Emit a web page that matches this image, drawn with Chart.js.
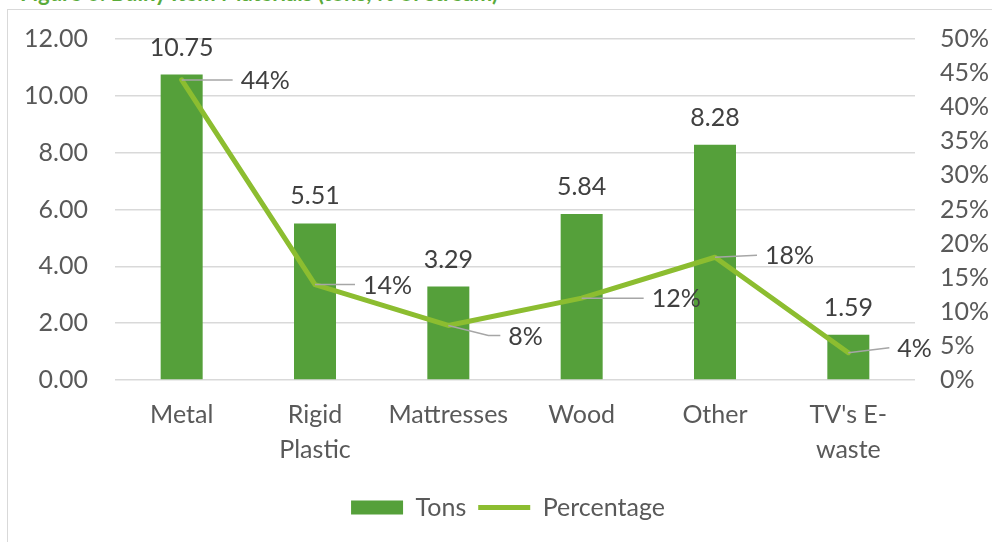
<!DOCTYPE html>
<html>
<head>
<meta charset="utf-8">
<script src="https://cdn.jsdelivr.net/npm/chart.js@4"></script>
<style>
  html, body { margin: 0; padding: 0; background: #fff; overflow: hidden; }
  body { width: 992px; height: 542px; position: relative; }
  #title {
    position: absolute; left: 20px; top: -18px;
    font: bold 22px Lato, sans-serif; line-height: 22px;
    color: #5aab3a; white-space: nowrap;
  }
  #frame {
    position: absolute; left: 7px; top: 9px; width: 1008px; height: 540px;
    border-left: 1px solid #d9d9d9; border-top: 1px solid #d9d9d9;
  }
  #chart { position: absolute; left: 0; top: 0; }
</style>
</head>
<body>
<div id="title">Figure 6: Bulky Item Materials (tons, % of stream)</div>
<div id="frame"><canvas id="chart" width="1000" height="532"></canvas></div>
<script>
var categories = [["Metal"], ["Rigid", "Plastic"], ["Mattresses"], ["Wood"], ["Other"], ["TV's E-", "waste"]];
var tons = [10.75, 5.51, 3.29, 5.84, 8.28, 1.59];
var percentage = [0.44, 0.14, 0.08, 0.12, 0.18, 0.04];
var tonsTicks = [0, 2, 4, 6, 8, 10, 12];
var pctTicks = [0, 0.05, 0.1, 0.15, 0.2, 0.25, 0.3, 0.35, 0.4, 0.45, 0.5];

var fontFamily = "Lato, 'Open Sans', sans-serif";
var barColor = "#55a03a";
var lineColor = "#8cbd30";

// leader lines for the % labels: [bend dx, bend dy, end dx, end dy]
var leaders = [
  [51, 0, 51, 0],
  [40, 0, 40, 0],
  [40, 10, 52, 10],
  [62, 0, 62, 0],
  [42, -2, 42, -2],
  [41, -5, 41, -5]
];

var valueLabels = {
  id: "valueLabels",
  afterDatasetsDraw: function (chart) {
    var ctx = chart.ctx;
    ctx.save();
    ctx.font = "25px " + fontFamily;
    ctx.fillStyle = "#404040";
    ctx.textBaseline = "middle";

    // tons above the bars
    ctx.textAlign = "center";
    chart.getDatasetMeta(0).data.forEach(function (bar, i) {
      ctx.fillText(tons[i].toFixed(2), bar.x, bar.y - 27);
    });

    // percentages with leader lines
    ctx.textAlign = "left";
    chart.getDatasetMeta(1).data.forEach(function (pt, i) {
      var l = leaders[i];
      ctx.strokeStyle = "#a6a6a6";
      ctx.lineWidth = 1.5;
      ctx.beginPath();
      ctx.moveTo(pt.x, pt.y);
      ctx.lineTo(pt.x + l[0], pt.y + l[1]);
      ctx.lineTo(pt.x + l[2], pt.y + l[3]);
      ctx.stroke();
      ctx.fillText(Math.round(percentage[i] * 100) + "%", pt.x + l[2] + 8, pt.y + l[3] + 1);
    });
    ctx.restore();
  }
};

// fixed axis widths, no extra padding from the tick labels
function fixWidth(w) {
  return function (scale) {
    scale.width = w;
    scale.paddingTop = 0;
    scale.paddingBottom = 0;
  };
}

var ctx = document.getElementById("chart");
var myChart = new Chart(ctx, {
  type: "bar",
  data: {
    labels: categories,
    datasets: [
      {
        label: "Tons",
        data: tons,
        backgroundColor: barColor,
        yAxisID: "y",
        categoryPercentage: 1,
        barPercentage: 0.315,
        pointStyle: "rect",
        order: 1
      },
      {
        type: "line",
        label: "Percentage",
        data: percentage,
        borderColor: lineColor,
        backgroundColor: lineColor,
        borderWidth: 5,
        borderCapStyle: "round",
        borderJoinStyle: "round",
        pointRadius: 0,
        pointStyle: "line",
        yAxisID: "y1",
        order: 0
      }
    ]
  },
  options: {
    responsive: false,
    animation: false,
    layout: { padding: { top: 29, bottom: 12, left: 0, right: 0 } },
    scales: {
      x: {
        grid: { display: false, drawTicks: false },
        border: { display: false },
        ticks: {
          color: "#595959",
          font: { family: fontFamily, size: 25, lineHeight: 1.38 },
          padding: 18,
          maxRotation: 0,
          autoSkip: false
        },
        afterFit: function (scale) { scale.height = 103; }
      },
      y: {
        position: "left",
        min: 0,
        max: 12,
        afterBuildTicks: function (scale) {
          scale.ticks = tonsTicks.map(function (v) { return { value: v }; });
        },
        grid: { color: "#d9d9d9", lineWidth: 1.5, drawTicks: false },
        border: { display: false },
        ticks: {
          color: "#595959",
          font: { family: fontFamily, size: 25 },
          padding: 27,
          autoSkip: false,
          callback: function (v) { return v.toFixed(2); }
        },
        afterFit: fixWidth(107)
      },
      y1: {
        position: "right",
        min: 0,
        max: 0.5,
        afterBuildTicks: function (scale) {
          scale.ticks = pctTicks.map(function (v) { return { value: v }; });
        },
        grid: { display: false, drawTicks: false },
        border: { display: false },
        ticks: {
          color: "#595959",
          font: { family: fontFamily, size: 25 },
          padding: 25,
          autoSkip: false,
          callback: function (v) { return Math.round(v * 100) + "%"; }
        },
        afterFit: fixWidth(93)
      }
    },
    plugins: {
      title: { display: false },
      tooltip: { enabled: false },
      legend: {
        display: true,
        position: "bottom",
        labels: {
          usePointStyle: true,
          pointStyleWidth: 52,
          boxHeight: 14,
          color: "#595959",
          font: { family: fontFamily, size: 25 },
          padding: 12,
          sort: function (a, b) { return a.datasetIndex - b.datasetIndex; }
        }
      }
    }
  },
  plugins: [valueLabels]
});
</script>
</body>
</html>
